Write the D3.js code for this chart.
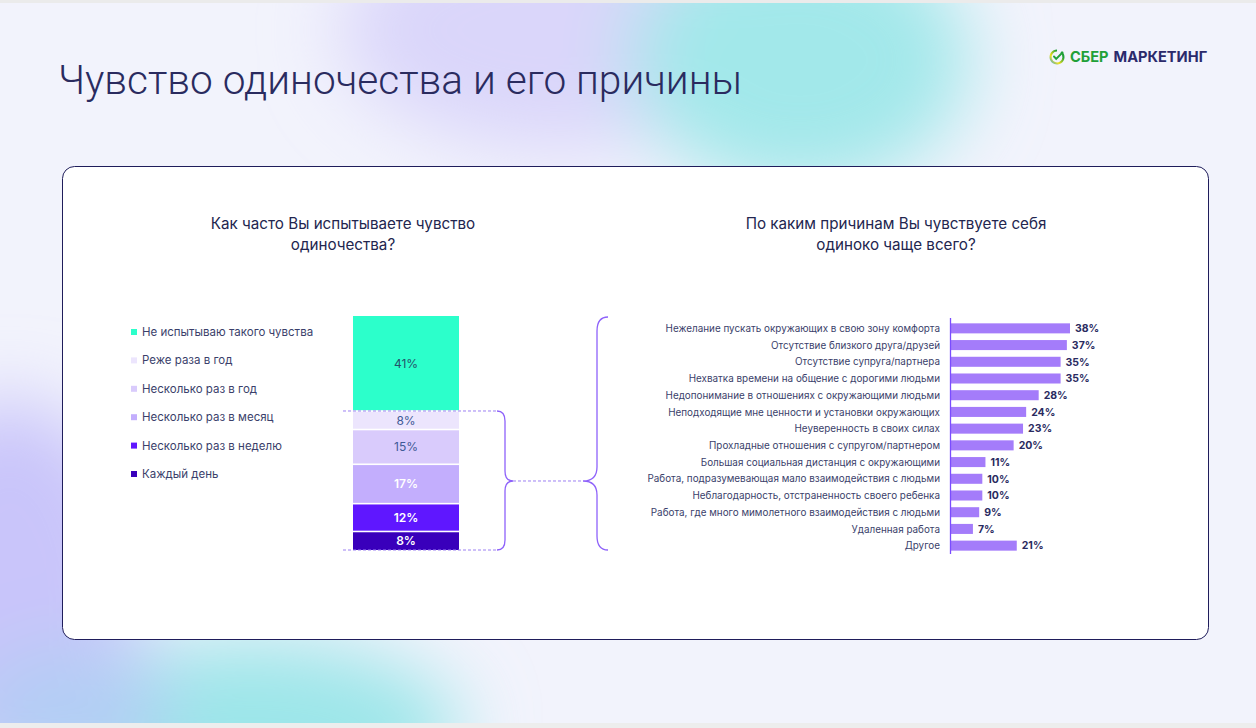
<!DOCTYPE html>
<html><head><meta charset="utf-8">
<script src="https://cdn.jsdelivr.net/npm/d3@7"></script>
<style>html,body{margin:0;padding:0;background:#fff;}svg{display:block;}</style>
</head><body>
<script>
const title = "Чувство одиночества и его причины";
const leftSubtitle = ["Как часто Вы испытываете чувство", "одиночества?"];
const rightSubtitle = ["По каким причинам Вы чувствуете себя", "одиноко чаще всего?"];
const freqCategories = ["Не испытываю такого чувства","Реже раза в год","Несколько раз в год","Несколько раз в месяц","Несколько раз в неделю","Каждый день"];
const freqValues = [41, 8, 15, 17, 12, 8];
const freqColors = ["#2CFFCB","#ECE5FD","#D9CBFC","#C3AEFD","#5F17FF","#3900BB"];
const freqLabelColors = ["#24506A","#3E5A96","#3E5A96","#FFFFFF","#FFFFFF","#FFFFFF"];
const reasons = ["Нежелание пускать окружающих в свою зону комфорта","Отсутствие близкого друга/друзей","Отсутствие супруга/партнера","Нехватка времени на общение с дорогими людьми","Недопонимание в отношениях с окружающими людьми","Неподходящие мне ценности и установки окружающих","Неуверенность в своих силах","Прохладные отношения с супругом/партнером","Большая социальная дистанция с окружающими","Работа, подразумевающая мало взаимодействия с людьми","Неблагодарность, отстраненность своего ребенка","Работа, где много мимолетного взаимодействия с людьми","Удаленная работа","Другое"];
const reasonValues = [38,37,35,35,28,24,23,20,11,10,10,9,7,21];

const W = 1256, H = 728;
const svg = d3.select("body").append("svg").attr("width", W).attr("height", H);
const defs = svg.append("defs");
defs.append("filter").attr("id","blur").attr("x","-50%").attr("y","-50%").attr("width","200%").attr("height","200%")
  .append("feGaussianBlur").attr("stdDeviation", 38);

// background
svg.append("rect").attr("width", W).attr("height", H).attr("fill", "#F2F3FC");
const blobs = svg.append("g").attr("filter","url(#blur)");
blobs.append("ellipse").attr("cx",560).attr("cy",30).attr("rx",220).attr("ry",120).attr("fill","#DAD6FA");
blobs.append("ellipse").attr("cx",800).attr("cy",60).attr("rx",170).attr("ry",130).attr("fill","#A2E8EA");
blobs.append("ellipse").attr("cx",10).attr("cy",600).attr("rx",130).attr("ry",200).attr("fill","#C9C5FA");
blobs.append("ellipse").attr("cx",250).attr("cy",730).attr("rx",210).attr("ry",90).attr("fill","#9CE6E9");
blobs.append("ellipse").attr("cx",70).attr("cy",715).attr("rx",100).attr("ry",70).attr("fill","#B2CEF4");
svg.append("rect").attr("x",0).attr("y",0).attr("width",W).attr("height",3).attr("fill","#EBEBEB");
svg.append("rect").attr("x",0).attr("y",723).attr("width",W).attr("height",5).attr("fill","#EDEDED");

// title
const t = svg.append("text").attr("x",58).attr("y",94).text(title)
  .attr("font-family","Roboto").attr("font-weight",300).attr("font-size",41).attr("fill","#2A2B5F");
const tl = t.node().getComputedTextLength();
if (Math.abs(tl-684) > 4) t.attr("textLength",684).attr("lengthAdjust","spacingAndGlyphs");

// logo
const lg = defs.append("linearGradient").attr("id","lg").attr("x1","0").attr("y1","1").attr("x2","1").attr("y2","0");
lg.append("stop").attr("offset","0").attr("stop-color","#1E9BF0");
lg.append("stop").attr("offset","0.35").attr("stop-color","#F2E11B");
lg.append("stop").attr("offset","0.7").attr("stop-color","#21A038");
lg.append("stop").attr("offset","1").attr("stop-color","#21A038");
const logo = svg.append("g").attr("transform","translate(1057,57)");
logo.append("path").attr("d", d3.arc()({innerRadius:5.4,outerRadius:7.5,startAngle:0.7,endAngle:2*Math.PI}))
  .attr("fill","url(#lg)");
logo.append("path").attr("d","M-3,-0.5 L-0.8,1.8 L5.5,-4.5").attr("fill","none").attr("stroke","#21A038").attr("stroke-width",1.9).attr("stroke-linecap","round");
const lt = svg.append("text").attr("x",1070).attr("y",62).attr("font-family","Inter").attr("font-weight",700).attr("font-size",14.6);
lt.append("tspan").attr("fill","#21A038").text("СБЕР");
lt.append("tspan").attr("fill","#2B2A6B").attr("dx",5).text("МАРКЕТИНГ");

// panel
svg.append("rect").attr("x",62.5).attr("y",166.5).attr("width",1146).attr("height",473).attr("rx",12)
  .attr("fill","#FFFFFF").attr("stroke","#1F1D5B").attr("stroke-width",1);

// subtitles
function subtitle(lines, cx){
  const g = svg.append("text").attr("text-anchor","middle").attr("font-family","Inter").attr("font-size",15.2).attr("fill","#23264F");
  lines.forEach((l,i)=> g.append("tspan").attr("x",cx).attr("y",229+i*21).text(l));
}
subtitle(leftSubtitle, 343);
subtitle(rightSubtitle, 896);

// legend
const legend = svg.append("g");
freqCategories.forEach((c,i)=>{
  const y = 332 + i*28.4;
  legend.append("rect").attr("x",131).attr("y",y-3).attr("width",6).attr("height",6).attr("fill",freqColors[i]);
  legend.append("text").attr("x",142).attr("y",y+4).text(c).attr("font-family","Inter").attr("font-size",11.5).attr("fill","#3B3F6B");
});

// stacked bar
const total = d3.sum(freqValues);
const yS = d3.scaleLinear().domain([0,total]).range([550,316]);
const stack = [];
let acc = 0;
for (let i = freqValues.length-1; i>=0; i--) { stack[i] = [acc, acc+freqValues[i]]; acc += freqValues[i]; }
const sb = svg.append("g");
freqValues.forEach((v,i)=>{
  const y0 = yS(stack[i][1]), y1 = yS(stack[i][0]);
  sb.append("rect").attr("x",353).attr("width",106).attr("y", y0 + (i===0?0:0.8)).attr("height", y1-y0-(i===0?0.8:1.6)+(i===freqValues.length-1?0.8:0))
    .attr("fill",freqColors[i]);
  sb.append("text").attr("x",406).attr("y",(y0+y1)/2+4.5).attr("text-anchor","middle").text(v+"%")
    .attr("font-family","Inter").attr("font-size",12).attr("font-weight", i>=3?600:400).attr("fill",freqLabelColors[i]);
});

// dashed lines and braces
const topY = yS(stack[1][1]), botY = yS(0);
const purple = "#8E62FA";
svg.append("line").attr("x1",343).attr("x2",497).attr("y1",topY).attr("y2",topY).attr("stroke","#9C80F2").attr("stroke-width",1).attr("stroke-dasharray","3,2");
svg.append("line").attr("x1",343).attr("x2",497).attr("y1",botY).attr("y2",botY).attr("stroke","#9C80F2").attr("stroke-width",1).attr("stroke-dasharray","3,2");
const midY = (topY+botY)/2 + 0.5;
svg.append("path").attr("d",`M497,${topY} Q505,${topY} 505,${topY+10} L505,${midY-10} Q505,${midY} 513,${midY} Q505,${midY} 505,${midY+10} L505,${botY-10} Q505,${botY} 497,${botY}`)
  .attr("fill","none").attr("stroke",purple).attr("stroke-width",1.3);
svg.append("line").attr("x1",513).attr("x2",583).attr("y1",midY).attr("y2",midY).attr("stroke","#9C80F2").attr("stroke-width",1).attr("stroke-dasharray","3,2");
const bTop = 317, bBot = 550;
svg.append("path").attr("d",`M608,${bTop} Q597,${bTop} 597,${bTop+14} L597,${midY-14} Q597,${midY} 583,${midY} Q597,${midY} 597,${midY+14} L597,${bBot-14} Q597,${bBot} 608,${bBot}`)
  .attr("fill","none").attr("stroke",purple).attr("stroke-width",1.3);

// horizontal bar chart
const x = d3.scaleLinear().domain([0, 38]).range([951, 1070]);
const y = d3.scaleBand().domain(reasons).range([320, 554]).paddingInner(0.4).paddingOuter(0.2);
const hb = svg.append("g");
hb.selectAll("rect").data(reasons).join("rect")
  .attr("x", x(0)).attr("y", d=>y(d)).attr("height", y.bandwidth())
  .attr("width", (d,i)=> x(reasonValues[i]) - x(0)).attr("fill","#A47CFA");
hb.selectAll("text.lab").data(reasons).join("text").attr("class","lab")
  .attr("x", 940).attr("y", d=>y(d)+y.bandwidth()/2+3.6).attr("text-anchor","end").text(d=>d)
  .attr("font-family","Inter").attr("font-size",9.9).attr("fill","#3B3F6B");
hb.selectAll("text.val").data(reasons).join("text").attr("class","val")
  .attr("x", (d,i)=> x(reasonValues[i]) + 5).attr("y", d=>y(d)+y.bandwidth()/2+3.8).text((d,i)=>reasonValues[i]+"%")
  .attr("font-family","Inter").attr("font-size",10.5).attr("font-weight",700).attr("fill","#2A2B5F");
svg.append("line").attr("x1",950.5).attr("x2",950.5).attr("y1",318).attr("y2",554).attr("stroke","#7A4DFF").attr("stroke-width",1.3);
</script>
</body></html>
